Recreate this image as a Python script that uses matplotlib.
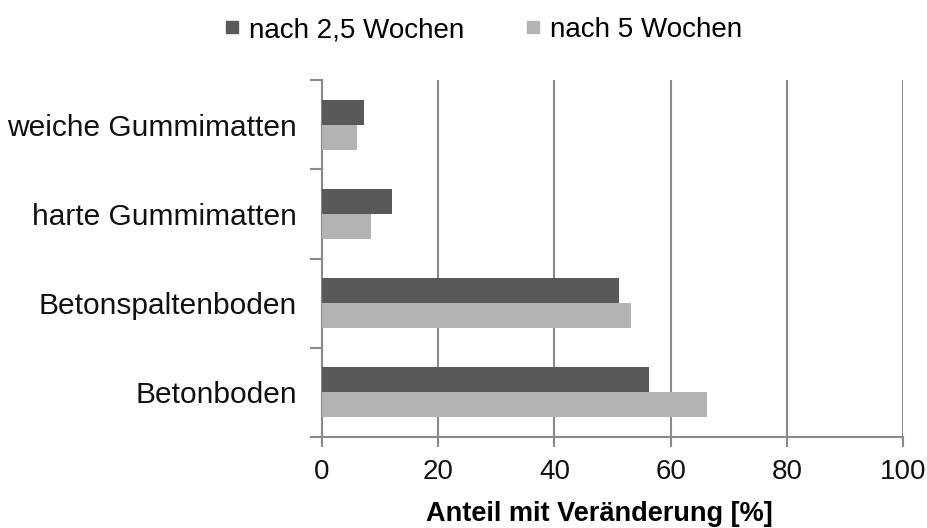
import matplotlib
matplotlib.use("Agg")
import matplotlib.pyplot as plt
from matplotlib.lines import Line2D

plt.rcParams['font.family'] = ['Liberation Sans', 'DejaVu Sans']

# Kategorien von unten nach oben
categories = ["Betonboden", "Betonspaltenboden", "harte Gummimatten", "weiche Gummimatten"]
series_names = ["nach 2,5 Wochen", "nach 5 Wochen"]
after_2_5_weeks = [56.3, 51.1, 12.0, 7.3]
after_5_weeks = [66.3, 53.2, 8.4, 6.0]
x_ticks = [0, 20, 40, 60, 80, 100]

dark = "#595959"
light = "#b3b3b3"
grid_col = "#8a8a8a"

fig = plt.figure(figsize=(9.27, 5.28), dpi=100)
ax = fig.add_axes([0.3474, 0.1723, 0.6268, 0.6762])

ypos = list(range(len(categories)))
h = 0.28
ax.barh([y + h / 2 for y in ypos], after_2_5_weeks, height=h, color=dark, zorder=3)
ax.barh([y - h / 2 for y in ypos], after_5_weeks, height=h, color=light, zorder=3)

ax.set_xlim(0, 100)
ax.set_ylim(-0.5, len(categories) - 0.5)
ax.set_xticks(x_ticks)
ax.set_xticklabels([str(t) for t in x_ticks], fontsize=20)
ax.tick_params(axis='x', length=7, width=1.5, color=grid_col, pad=9, labelcolor="#111111")

# Teilstriche an den Kategoriegrenzen, Beschriftung in der Mitte
ax.set_yticks([y - 0.5 for y in range(len(categories) + 1)])
ax.set_yticklabels([])
ax.tick_params(axis='y', length=9, width=1.5, color=grid_col)
ax.set_yticks(ypos, minor=True)
ax.set_yticklabels(categories, minor=True, fontsize=21.5, color="#111111")
ax.tick_params(axis='y', which='minor', length=0, pad=18)

ax.grid(axis='x', color=grid_col, linewidth=1.5, zorder=0)
ax.spines['top'].set_visible(False)
ax.spines['right'].set_visible(False)
for s in ['left', 'bottom']:
    ax.spines[s].set_color(grid_col)
    ax.spines[s].set_linewidth(1.5)

ax.set_xlabel("Anteil mit Veränderung [%]", fontsize=19.5, fontweight='bold')
ax.xaxis.set_label_coords(0.477, -0.18)

handles = [Line2D([], [], linestyle='none', marker='s', markersize=9, color=c)
           for c in (dark, light)]
fig.legend(handles, series_names, loc='center', bbox_to_anchor=(0.521, 0.943), ncol=2,
           frameon=False, fontsize=20, handlelength=0.6, handletextpad=0.3,
           columnspacing=2.2)

fig.savefig("out.png", dpi=100)
